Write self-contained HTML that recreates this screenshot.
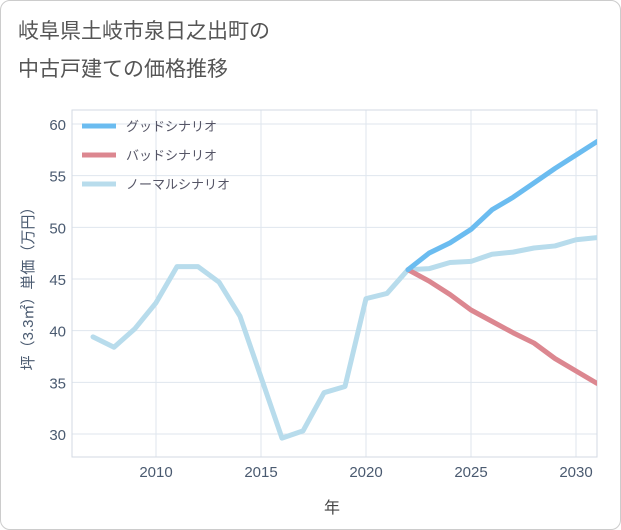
<!DOCTYPE html>
<html><head><meta charset="utf-8"><style>
body{margin:0;background:#fff;}
.card{position:absolute;left:0;top:0;width:619px;height:528px;border:1px solid #ccc;border-radius:10px;background:#fff;}
text{font-family:"Liberation Sans","Noto Sans CJK JP",sans-serif;}
</style></head><body>
<div class="card"></div>
<svg id="chart" width="621" height="530" style="position:absolute;left:0;top:0">
<text x="18" y="38" font-size="21" fill="#555">岐阜県土岐市泉日之出町の</text>
<text x="18" y="76" font-size="21" fill="#555">中古戸建ての価格推移</text>
<text x="332" y="513" font-size="16" fill="#444" text-anchor="middle">年</text>
<text transform="translate(33,285) rotate(-90)" font-size="15" fill="#4a5a70" text-anchor="middle">坪（3.3㎡）単価（万円）</text>
<g id="grid"></g><g id="series"></g><g id="legend"></g>
</svg>
<script>
const years=[2007,2008,2009,2010,2011,2012,2013,2014,2015,2016,2017,2018,2019,2020,2021,2022,2023,2024,2025,2026,2027,2028,2029,2030,2031];
const normalValues=[39.4,38.4,40.2,42.7,46.2,46.2,44.7,41.4,35.5,29.6,30.3,34.0,34.6,43.1,43.6,45.9,46.0,46.6,46.7,47.4,47.6,48.0,48.2,48.8,49.0];
const futureYears=[2022,2023,2024,2025,2026,2027,2028,2029,2030,2031];
const goodValues=[45.9,47.5,48.5,49.8,51.7,52.9,54.3,55.7,57.0,58.3];
const badValues=[45.9,44.8,43.5,42.0,40.9,39.8,38.8,37.3,36.1,34.9];
const xTicks=[2010,2015,2020,2025,2030];
const yTicks=[30,35,40,45,50,55,60];
const legendLabels=["グッドシナリオ","バッドシナリオ","ノーマルシナリオ"];
const L=72,R=597,T=110,B=457;
const xs=y=>156+(y-2010)*21;
const ys=v=>434-(v-30)*(310/30);
const NS="http://www.w3.org/2000/svg";
function mk(tag,attrs,parent){const e=document.createElementNS(NS,tag);for(const k in attrs)e.setAttribute(k,attrs[k]);parent.appendChild(e);return e;}
const grid=document.getElementById('grid');
xTicks.forEach(t=>{
 const l=mk('line',{x1:xs(t),x2:xs(t),y1:T,y2:B,stroke:'#dfe6ee'},grid);
 
 
 const tx=mk('text',{x:xs(t),y:B+20,'font-size':15,fill:'#4a5a70','text-anchor':'middle'},grid);
 tx.textContent=t;
 
 
});
yTicks.forEach(t=>{
 const l=mk('line',{x1:L,x2:R,y1:ys(t),y2:ys(t),stroke:'#dfe6ee'},grid);
 
 
 const tx=mk('text',{x:L-6,y:ys(t)+6,'font-size':15,fill:'#4a5a70','text-anchor':'end'},grid);
 tx.textContent=t;
 
 
});
const frame=mk('rect',{x:L,y:T,width:R-L,height:B-T,fill:'none',stroke:'#d3dae3'},grid);


const ser=document.getElementById('series');
ser.setAttribute('clip-path','url(#clip)');
const defs=mk('defs',{},document.getElementById('chart'));
const cp=mk('clipPath',{id:'clip'},defs);mk('rect',{x:L,y:T,width:R-L,height:B-T},cp);
function line(xv,yv,color,name){
 const p=mk('polyline',{points:xv.map((x,i)=>xs(x)+','+ys(yv[i])).join(' '),fill:'none',stroke:color,'stroke-width':5,'stroke-linejoin':'round','stroke-linecap':'round'},ser);
 
 
}
line(years,normalValues,'#b8dcec','normal-scenario-line');
line(futureYears,badValues,'#dc8790','bad-scenario-line');
line(futureYears,goodValues,'#6bbcf0','good-scenario-line');
const lg=document.getElementById('legend');
const lc=['#6bbcf0','#dc8790','#b8dcec'];
legendLabels.forEach((s,i)=>{
 const y=126+i*29;
 const l=mk('line',{x1:82,x2:116,y1:y,y2:y,stroke:lc[i],'stroke-width':5},lg);
 
 
 const t=mk('text',{x:126,y:y+5,'font-size':13,fill:'#556'},lg);
 t.textContent=s;
 
 
});
</script>
</body></html>
